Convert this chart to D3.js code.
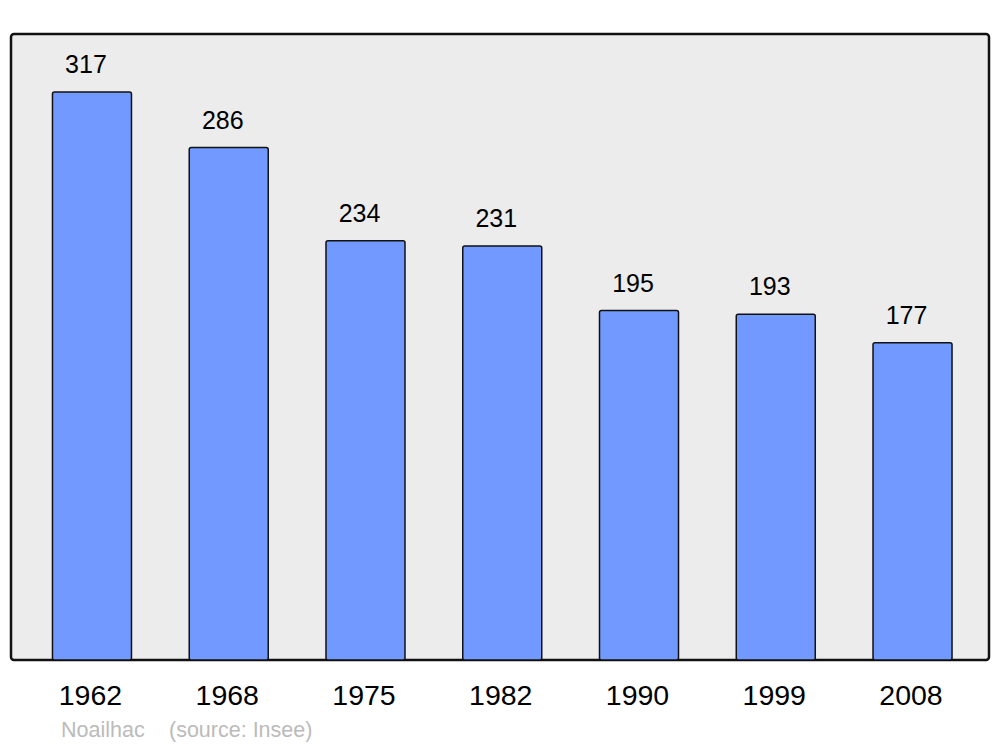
<!DOCTYPE html>
<html><head><meta charset="utf-8">
<script src="https://d3js.org/d3.v7.min.js"></script>
<style>body{margin:0;background:#fff}svg{display:block}text{font-family:"Liberation Sans",Arial,sans-serif}</style>
</head><body>
<script>
const years = ["1962","1968","1975","1982","1990","1999","2008"];
const population = [317,286,234,231,195,193,177];
const place = "Noailhac";
const source = "(source: Insee)";

const W=1000,H=747;
const svg=d3.select("body").append("svg").attr("width",W).attr("height",H);
const panel={x0:11,y0:34,x1:989,y1:660};
svg.append("rect").attr("x",panel.x0).attr("y",panel.y0)
  .attr("width",panel.x1-panel.x0).attr("height",panel.y1-panel.y0)
  .attr("rx",3).attr("fill","#ececec").attr("stroke","#111").attr("stroke-width",2.5);

const x=d3.scaleBand().domain(years).range([23.6,980.9]).padding(0);
const y=d3.scaleLinear().domain([0,317]).range([660,92]);
const bw=79;

svg.selectAll("rect.bar").data(population).join("rect").attr("class","bar")
  .attr("x",(d,i)=>x(years[i])+x.bandwidth()/2-bw/2)
  .attr("y",d=>y(d)).attr("width",bw).attr("height",d=>y(0)-y(d))
  .attr("rx",2).attr("fill","#7299ff").attr("stroke","#111").attr("stroke-width",1.5);

svg.selectAll("text.val").data(population).join("text").attr("class","val")
  .attr("x",(d,i)=>x(years[i])+x.bandwidth()/2-6).attr("y",d=>y(d)-19)
  .attr("text-anchor","middle").attr("font-size",25).attr("fill","#000").text(d=>d);

svg.selectAll("text.yr").data(years).join("text").attr("class","yr")
  .attr("x",d=>x(d)+x.bandwidth()/2-1.5).attr("y",705)
  .attr("text-anchor","middle").attr("font-size",28.5).attr("fill","#000").text(d=>d);

svg.append("text").attr("x",61).attr("y",737).attr("font-size",21.5).attr("fill","#bbb").text(place);
svg.append("text").attr("x",169).attr("y",737).attr("font-size",21.5).attr("fill","#bbb").text(source);
</script>
</body></html>
